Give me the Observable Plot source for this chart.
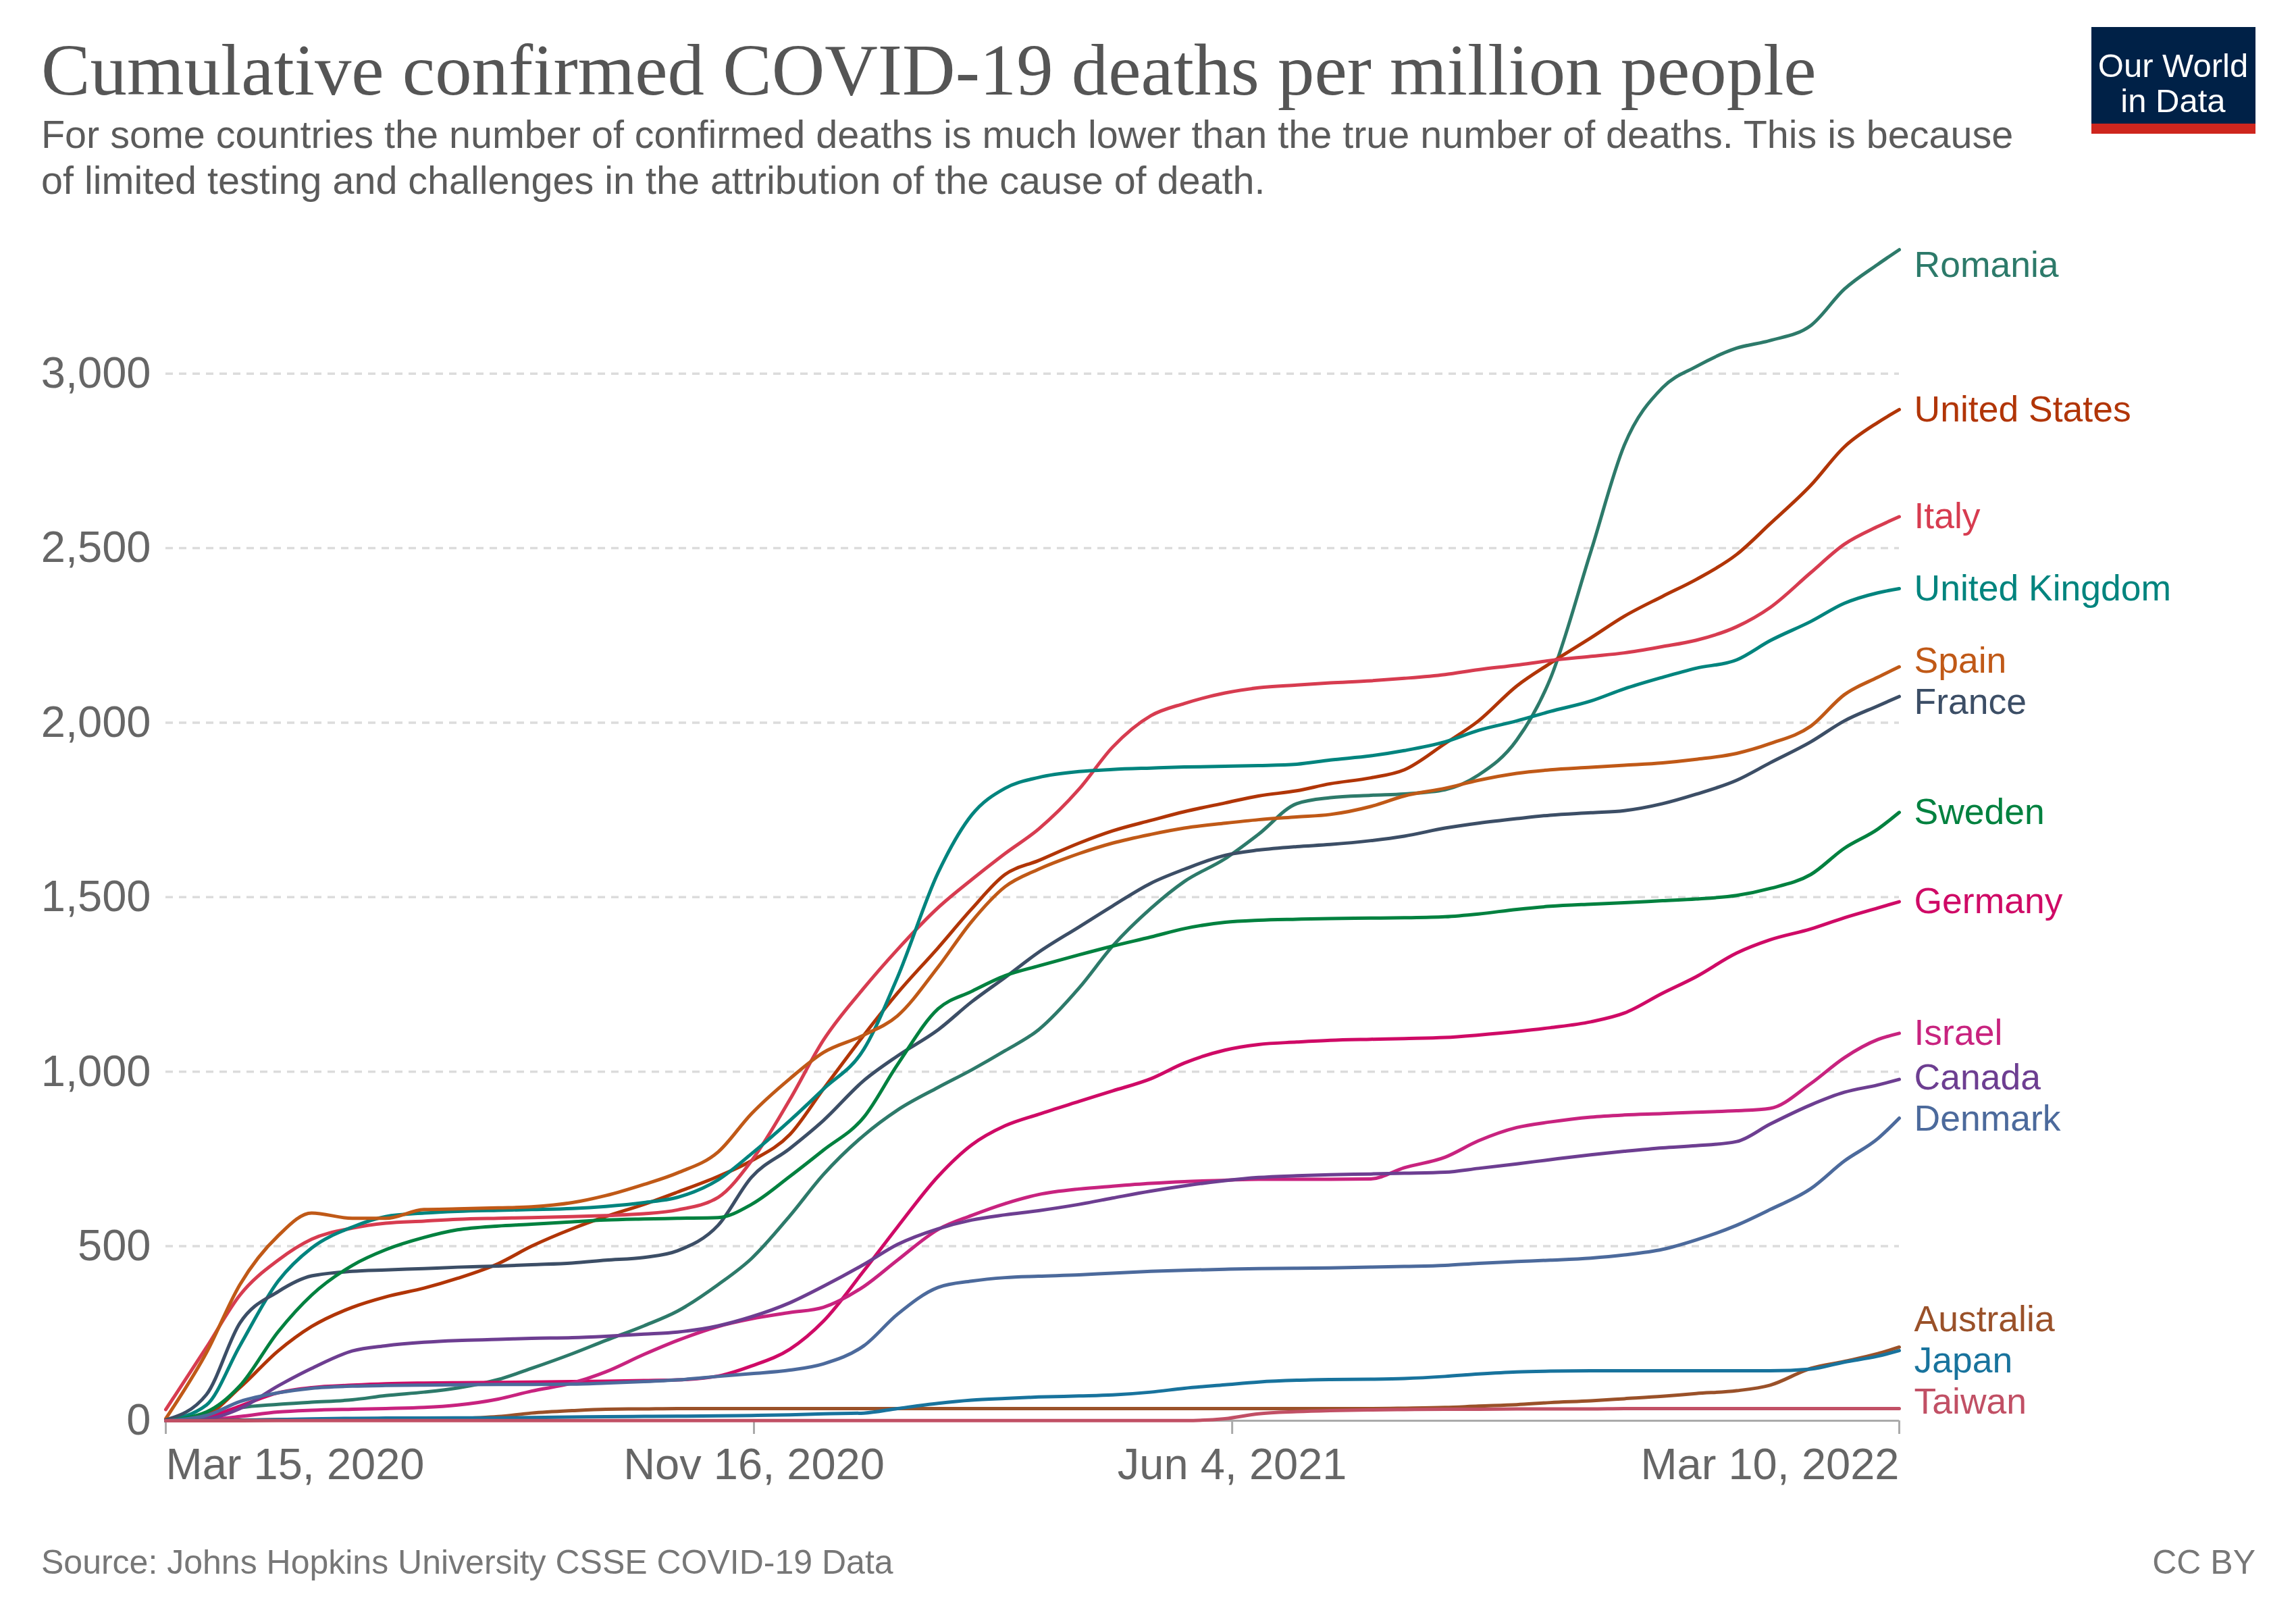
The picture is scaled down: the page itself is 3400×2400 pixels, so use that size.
<!DOCTYPE html>
<html>
<head>
<meta charset="utf-8">
<script src="https://cdn.jsdelivr.net/npm/d3@7"></script>
<script src="https://cdn.jsdelivr.net/npm/@observablehq/plot@0.6"></script>
<style>
html, body { margin: 0; padding: 0; background: #fff; }
#page { width: 3400px; height: 2400px; position: relative; overflow: hidden; background: #fff; }
svg { display: block; }
</style>
</head>
<body>
<div id="page">
<svg id="header" width="3400" height="330" xmlns="http://www.w3.org/2000/svg">
  <text id="title" x="61" y="140" font-family="Liberation Serif, DejaVu Serif, serif" font-size="106" fill="#555">Cumulative confirmed COVID-19 deaths per million people</text>
  <text x="61" y="219" font-family="Liberation Sans, Arial, sans-serif" font-size="57.5" fill="#5b5b5b">For some countries the number of confirmed deaths is much lower than the true number of deaths. This is because</text>
  <text x="61" y="287" font-family="Liberation Sans, Arial, sans-serif" font-size="57.5" fill="#5b5b5b">of limited testing and challenges in the attribution of the cause of death.</text>
  <rect x="3097" y="40" width="243" height="158" fill="#002147"></rect>
  <rect x="3097" y="183" width="243" height="15" fill="#ce261e"></rect>
  <text x="3218" y="114" text-anchor="middle" font-family="Liberation Sans, Arial, sans-serif" font-size="49" fill="#fff">Our World</text>
  <text x="3218" y="166" text-anchor="middle" font-family="Liberation Sans, Arial, sans-serif" font-size="49" fill="#fff">in Data</text>
</svg>
<div id="chart"></div>
<svg id="footer" width="3400" height="170" xmlns="http://www.w3.org/2000/svg">
  <text x="61" y="100" font-family="Liberation Sans, Arial, sans-serif" font-size="50" fill="#777">Source: Johns Hopkins University CSSE COVID-19 Data</text>
  <text x="3340" y="100" text-anchor="end" font-family="Liberation Sans, Arial, sans-serif" font-size="50" fill="#777">CC BY</text>
</svg>
</div>
<script>
// ---- data (cumulative confirmed deaths per million) ----
const dates = [
  "2020-03-15","2020-04-01","2020-04-15","2020-05-01","2020-05-15","2020-06-01","2020-06-15","2020-07-01",
  "2020-07-15","2020-08-01","2020-08-15","2020-09-01","2020-09-15","2020-10-01","2020-10-15","2020-11-01",
  "2020-11-15","2020-12-01","2020-12-15","2021-01-01","2021-01-15","2021-02-01","2021-02-15","2021-03-01",
  "2021-03-15","2021-04-01","2021-04-15","2021-05-01","2021-05-15","2021-06-01","2021-06-15","2021-07-01",
  "2021-07-15","2021-08-01","2021-08-15","2021-09-01","2021-09-15","2021-10-01","2021-10-15","2021-11-01",
  "2021-11-15","2021-12-01","2021-12-15","2022-01-01","2022-01-15","2022-02-01","2022-02-15","2022-03-01",
  "2022-03-10"
];
const countries = ["Romania","United States","Italy","United Kingdom","Spain","France","Sweden","Germany",
  "Israel","Canada","Denmark","Australia","Japan","Taiwan"];
const colors = ["#2d7a6a","#b13507","#d73c50","#00847e","#c05917","#3c4e66","#00813f","#cf0a66",
  "#c8237f","#6d3e91","#4c6a9c","#9a5129","#18739d","#c15065"];

const romania = [0,10,37,47,53,60,72,82,94,118,150,192,230,272,314,390,465,587,705,818,890,955,1005,1060,1120,1240,1360,1468,1545,1610,1680,1768,1785,1792,1796,1808,1850,1950,2125,2490,2795,2960,3020,3073,3095,3138,3242,3313,3355];
const unitedStates = [0,18,95,200,270,325,355,380,408,450,500,550,585,620,655,700,745,820,950,1105,1225,1355,1466,1565,1605,1655,1690,1720,1745,1770,1790,1805,1825,1842,1865,1940,2005,2105,2170,2243,2305,2362,2410,2482,2570,2680,2790,2860,2897];
const italy = [32,210,360,460,520,552,566,572,577,580,582,585,588,593,604,640,745,920,1090,1240,1350,1470,1550,1625,1695,1810,1930,2020,2055,2085,2100,2108,2114,2120,2127,2138,2152,2165,2178,2190,2200,2218,2236,2275,2330,2430,2511,2562,2590];
const unitedKingdom = [0,45,215,400,495,555,585,595,600,603,605,608,614,625,640,690,765,860,950,1065,1270,1570,1735,1812,1843,1860,1866,1870,1873,1875,1877,1881,1893,1905,1920,1945,1978,2005,2032,2062,2097,2130,2156,2180,2235,2290,2342,2372,2384];
const spain = [6,195,390,530,595,580,580,605,607,610,613,625,645,677,710,770,880,980,1055,1105,1160,1300,1430,1530,1580,1625,1655,1680,1698,1712,1722,1730,1737,1760,1790,1812,1835,1855,1865,1872,1878,1885,1895,1912,1940,1990,2080,2130,2160];
const france = [2,75,280,370,415,428,432,436,440,443,447,452,460,468,487,560,698,780,860,975,1045,1120,1200,1270,1342,1415,1475,1540,1580,1620,1635,1645,1651,1662,1675,1698,1712,1725,1735,1742,1748,1768,1795,1835,1885,1945,2005,2048,2075];
const sweden = [0,25,100,255,360,445,490,525,547,558,563,570,575,578,580,582,620,700,775,870,1020,1180,1230,1275,1303,1335,1360,1386,1410,1428,1434,1437,1439,1440,1441,1444,1452,1465,1474,1480,1484,1490,1495,1505,1525,1565,1640,1695,1743];
const germany = [0,10,42,80,95,102,106,108,109,110,111,112,113,115,117,128,157,205,285,430,555,700,790,845,878,915,945,980,1025,1062,1078,1085,1090,1093,1095,1098,1105,1115,1126,1143,1168,1225,1272,1340,1378,1409,1441,1469,1487];
const israel = [0,2,12,25,30,33,35,38,45,62,85,108,140,190,230,270,292,310,325,385,460,548,588,622,648,664,672,680,685,689,692,692,692,693,725,755,802,840,856,870,876,880,884,888,895,966,1040,1092,1110];
const canada = [0,5,35,100,150,200,215,225,230,233,236,238,242,248,254,272,298,338,385,448,505,550,575,590,602,620,638,658,673,688,697,702,705,707,709,712,723,736,748,762,772,782,788,800,850,905,941,962,978];
const denmark = [0,15,55,80,93,99,101,102,103,104,104,105,108,112,117,127,135,145,163,215,305,382,400,410,414,418,423,428,431,434,436,437,438,440,442,445,451,456,460,466,475,491,518,560,605,665,744,808,867];
const australia = [0,0.3,2,3.5,4,4,4,4,6,12,22,29,33,34,35,35,35,35,35,35,35,35,35,35,35,35,35,35,35,35,35,35,35,35,36,38,42,46,52,57,63,70,78,86,102,150,170,192,211];
const japan = [0,0.5,1,3.5,5.5,7,7.5,7.8,8,8.3,9,10.5,11.5,12.5,13,14,15,17,20,22,35,50,59,64,68,71,74,82,93,103,111,116,118,119,121,127,134,140,142,143,143,143,143,143,143,148,168,185,201];
const taiwan = [0,0.1,0.2,0.3,0.3,0.3,0.3,0.3,0.3,0.3,0.3,0.3,0.3,0.3,0.3,0.3,0.3,0.3,0.3,0.3,0.4,0.4,0.4,0.4,0.4,0.4,0.5,0.5,0.5,6,20,26,29,31,32,33,33,34,34,34,35,35,35,35,35,35,35,35,35];

const yTicks = [0, 500, 1000, 1500, 2000, 2500, 3000];
const xTickDates = ["2020-03-15", "2020-11-16", "2021-06-04", "2022-03-10"];
const xTickLabels = ["Mar 15, 2020", "Nov 16, 2020", "Jun 4, 2021", "Mar 10, 2022"];

// ---- build table ----
const series = [romania, unitedStates, italy, unitedKingdom, spain, france, sweden, germany,
  israel, canada, denmark, australia, japan, taiwan];
const rows = [];
countries.forEach((c, i) => dates.forEach((d, j) => rows.push({country: c, date: new Date(d), value: series[i][j]})));

// ---- layout ----
const W = 3400, H = 1900, mL = 245, mR = 588, mT = 16, mB = 127;
const yDomain = [0, 3400];
const xDomain = [new Date(dates[0]), new Date(dates[dates.length - 1])];

// label de-overlap in pixel space, then back to data units
const yPix = d3.scaleLinear(yDomain, [H - mB, mT]);
const gap = 61, minY = mT + 46, maxY = yPix(0) - 28;
const items = countries.map((c, i) => ({country: c, date: xDomain[1], value: series[i][series[i].length - 1]}))
  .map(d => ({...d, py: yPix(d.value)})).sort((a, b) => a.py - b.py);
function layout(g) {
  const n = g.items.length;
  let top = d3.mean(g.items, d => d.py) - (n - 1) * gap / 2;
  top = Math.max(minY, Math.min(top, maxY - (n - 1) * gap));
  g.top = top; g.bottom = top + (n - 1) * gap;
  return g;
}
let groups = items.map(it => layout({items: [it]}));
let merged = true;
while (merged) {
  merged = false;
  for (let i = 0; i < groups.length - 1; i++) {
    if (groups[i].bottom + gap > groups[i + 1].top) {
      groups.splice(i, 2, layout({items: groups[i].items.concat(groups[i + 1].items)}));
      merged = true; break;
    }
  }
}
groups.forEach(g => g.items.forEach((it, k) => { it.labelY = yPix.invert(g.top + k * gap); }));

const xTickData = xTickDates.map(d => new Date(d));
const fmtX = d => xTickLabels[xTickDates.indexOf(d.toISOString().slice(0, 10))];
const axisCommon = {tickSize: 20, tickPadding: 20, fontSize: 65, stroke: "#aaa", strokeWidth: 3, fill: "#666", tickFormat: fmtX, label: null};

const chart = Plot.plot({
  width: W, height: H,
  marginLeft: mL, marginRight: mR, marginTop: mT, marginBottom: mB,
  style: {fontFamily: "Liberation Sans, Arial, sans-serif", background: "#fff", overflow: "visible"},
  x: {type: "utc", domain: xDomain, label: null},
  y: {domain: yDomain, label: null},
  color: {domain: countries, range: colors},
  marks: [
    Plot.gridY(yTicks.slice(1), {stroke: "#dcdcdc", strokeOpacity: 1, strokeWidth: 3.5, strokeDasharray: "11,9"}),
    Plot.axisY(yTicks, {tickSize: 0, tickPadding: 22, fontSize: 65, fill: "#666", tickFormat: d3.format(","), label: null}),
    Plot.ruleY([0], {stroke: "#aaa", strokeWidth: 3}),
    Plot.axisX(xTickData.slice(0, 1), {...axisCommon, textAnchor: "start"}),
    Plot.axisX(xTickData.slice(1, 3), {...axisCommon, textAnchor: "middle"}),
    Plot.axisX(xTickData.slice(3), {...axisCommon, textAnchor: "end"}),
    Plot.line(rows, {x: "date", y: "value", z: "country", stroke: "country", strokeWidth: 5,
      curve: "monotone-x", strokeLinejoin: "round", strokeLinecap: "round"}),
    Plot.text(items, {x: "date", y: "labelY", text: "country", fill: "country", textAnchor: "start",
      dx: 22, fontSize: 53.5})
  ]
});
document.getElementById("chart").appendChild(chart);

// fit the serif title to the reference width
const t = document.getElementById("title");
const w = t.getComputedTextLength();
if (w > 0) t.setAttribute("font-size", (106 * 2628 / w).toFixed(1));
</script>
</body>
</html>
